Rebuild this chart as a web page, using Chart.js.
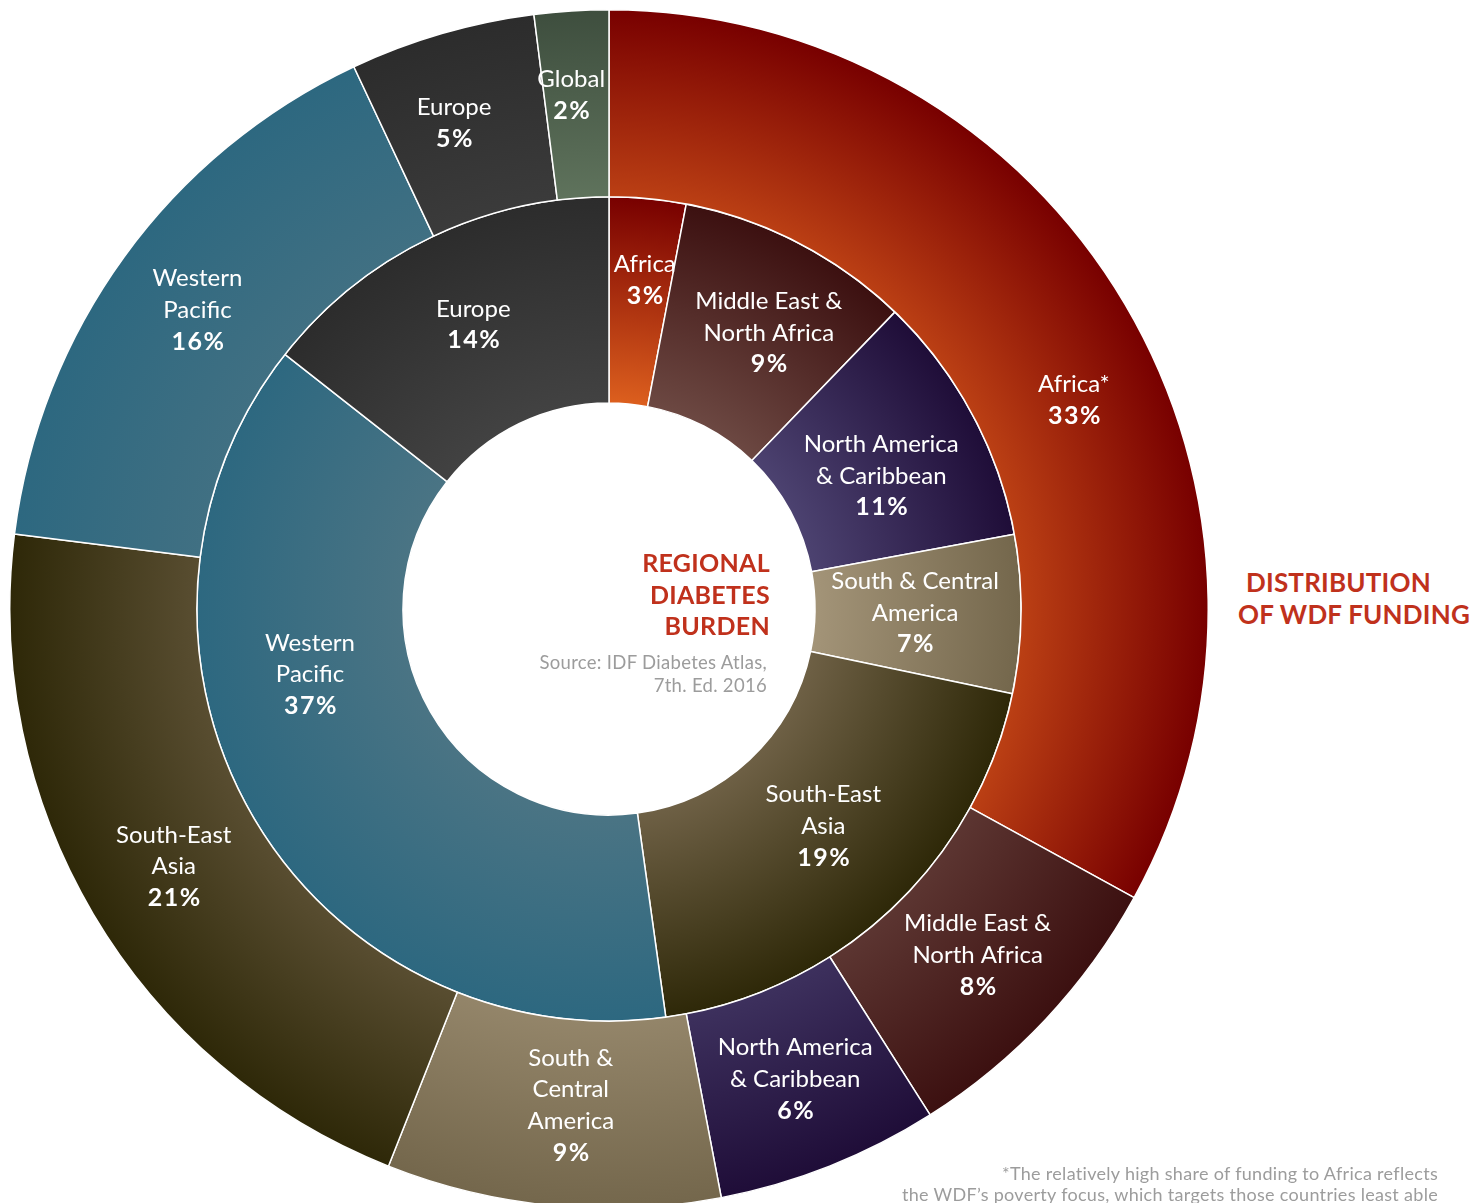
<!DOCTYPE html>
<html>
<head>
<meta charset="utf-8">
<script src="https://cdn.jsdelivr.net/npm/chart.js@4.4.1/dist/chart.umd.min.js"></script>
<style>
  body { margin: 0; width: 1469px; height: 1203px; overflow: hidden; background: #fff; position: relative; font-family: Lato, 'Noto Sans', sans-serif; }
  #wrap { position: absolute; left: 9px; top: 9px; width: 1200px; height: 1200px; }
  .title { position: absolute; color: #c0311c; font-weight: 700; font-size: 25px; line-height: 31.5px; white-space: nowrap; letter-spacing: 0.3px; }
  .note { position: absolute; color: #9c9c9c; white-space: nowrap; text-align: right; letter-spacing: 0.3px; }
</style>
</head>
<body>
<div id="wrap"><canvas id="donut" width="1200" height="1200"></canvas></div>

<div class="title" style="left:470px; top:547px; width:300px; text-align:right;">REGIONAL<br>DIABETES<br>BURDEN</div>
<div class="note" style="left:467px; top:651px; width:300px; font-size:18.5px; line-height:23px;">Source: IDF Diabetes Atlas,<br>7th. Ed. 2016</div>

<div class="title" style="left:1238px; top:567px; font-size:26px; letter-spacing:0.2px;"><span style="padding-left:8px">DISTRIBUTION</span><br>OF WDF FUNDING</div>

<div class="note" style="left:838px; top:1163px; width:600px; font-size:18px; line-height:21px;">*The relatively high share of funding to Africa reflects<br>the WDF’s poverty focus, which targets those countries least able</div>

<script>
// outer ring: distribution of WDF funding (%)
const fundingNames = ['Africa*', 'Middle East &\nNorth Africa', 'North America\n& Caribbean', 'South &\nCentral\nAmerica', 'South-East\nAsia', 'Western\nPacific', 'Europe', 'Global'];
const fundingShare = [33, 8, 6, 9, 21, 16, 5, 2];

// inner ring: regional diabetes burden
const burdenNames = ['Africa', 'Middle East &\nNorth Africa', 'North America\n& Caribbean', 'South & Central\nAmerica', 'South-East\nAsia', 'Western\nPacific', 'Europe'];
const burdenShare = [3, 9, 11, 7, 19, 37, 14];              // printed labels
const burdenSlice = [3.0, 9.2, 9.9, 6.2, 19.5, 37.8, 14.4]; // slice sizes as drawn

// light (inner) -> dark (outer) per region
const palette = [
  ['#dc5f1e', '#780000'],
  ['#6c4842', '#3c1010'],
  ['#4c4270', '#1f0d38'],
  ['#a39478', '#74674c'],
  ['#6e6045', '#2e2808'],
  ['#4a7484', '#2d6880'],
  ['#424242', '#2c2c2c'],
  ['#6f856b', '#3e4e3e']
];

// label tweaks [degrees, px]
const fundingNudge = [[6.4, 4], [0, 0], [0, 0], [-1, -8], [0, 0], [0, 3], [-1.5, 4], [-0.6, 10]];
const burdenNudge = [[0.8, 22], [2.7, 10], [2.2, -6], [0, -3], [-1.6, -4], [17.5, -3], [0.4, 6]];

const LINE = 31.5;

const sliceLabels = {
  id: 'sliceLabels',
  afterDatasetsDraw(chart) {
    const ctx = chart.ctx;
    ctx.save();
    ctx.fillStyle = '#fff';
    ctx.textAlign = 'center';
    ctx.textBaseline = 'middle';
    chart.data.datasets.forEach((ds, d) => {
      const names = d === 0 ? fundingNames : burdenNames;
      const pct = d === 0 ? fundingShare : burdenShare;
      const nudge = d === 0 ? fundingNudge : burdenNudge;
      chart.getDatasetMeta(d).data.forEach((arc, i) => {
        const p = arc.getProps(['x', 'y', 'startAngle', 'endAngle', 'innerRadius', 'outerRadius'], true);
        const a = (p.startAngle + p.endAngle) / 2 + nudge[i][0] * Math.PI / 180;
        const r = (p.innerRadius + p.outerRadius) / 2 + nudge[i][1];
        const lines = names[i].split('\n');
        const x = p.x + Math.cos(a) * r;
        let y = p.y + Math.sin(a) * r - lines.length * LINE / 2;
        ctx.font = '400 24px Lato';
        ctx.letterSpacing = '0px';
        lines.forEach(t => { ctx.fillText(t, x, y); y += LINE; });
        ctx.font = '700 25px Lato';
        ctx.letterSpacing = '1.5px';
        ctx.fillText(pct[i] + '%', x + 1, y);
      });
    });
    ctx.restore();
  }
};

function ringFill(ctx, arc, colors, lead) {
  const p = arc.getProps(['x', 'y', 'innerRadius', 'outerRadius'], true);
  const r0 = Math.max(p.innerRadius - (p.outerRadius - p.innerRadius) * lead, 0);
  const g = ctx.createRadialGradient(p.x, p.y, r0, p.x, p.y, p.outerRadius);
  g.addColorStop(0, colors[0]);
  g.addColorStop(1, colors[1]);
  return g;
}

const ctx = document.getElementById('donut').getContext('2d');
const chart = new Chart(ctx, {
  type: 'doughnut',
  data: {
    labels: fundingNames,
    datasets: [{
      data: fundingShare,
      weight: 187,
      backgroundColor: palette.map(c => c[1])
    }, {
      data: burdenSlice,
      weight: 206,
      backgroundColor: palette.map(c => c[1])
    }]
  },
  options: {
    responsive: false,
    animation: false,
    cutout: '34.38%',
    borderColor: '#ffffff',
    borderWidth: 1.5,
    hoverBorderWidth: 1.5,
    layout: { padding: 0 },
    plugins: {
      legend: { display: false },
      tooltip: { enabled: false }
    },
    events: []
  },
  plugins: [sliceLabels]
});

// swap flat colours for radial gradients once the arcs have their geometry
chart.data.datasets.forEach((ds, d) => {
  const arcs = chart.getDatasetMeta(d).data;
  ds.backgroundColor = arcs.map((arc, i) => ringFill(ctx, arc, palette[i], d === 0 ? 0.5 : 0));
});
chart.update();
</script>
</body>
</html>
